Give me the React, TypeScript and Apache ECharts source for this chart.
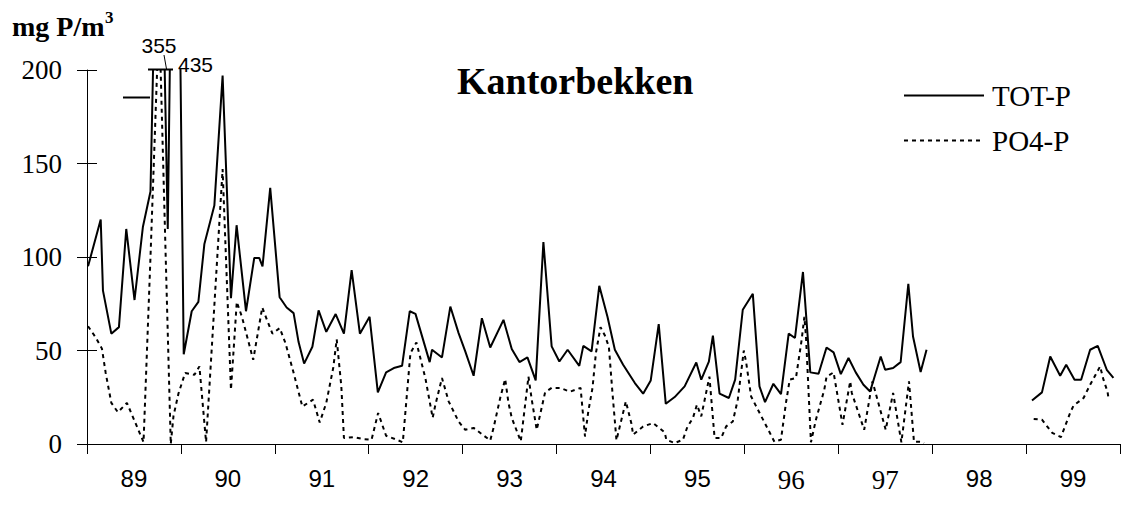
import React, { useEffect, useRef } from "react";
import * as echarts from "echarts";

const yearLabels = ["89", "90", "91", "92", "93", "94", "95", "96", "97", "98", "99"];
const serifYears = ["96", "97"];
const yTicks = { min: 0, max: 200, interval: 50 };

const totP: (number | null)[][] = [
  [1989.011, 95], [1989.146, 120], [1989.17, 82], [1989.259, 59], [1989.34, 62.5], [1989.418, 115],
  [1989.506, 77], [1989.595, 116], [1989.676, 135], [1989.768, 355], [1989.86, 115], [1989.942, 435],
  [1990.03, 48], [1990.115, 71], [1990.186, 76], [1990.25, 107], [1990.356, 127.5], [1990.444, 197],
  [1990.533, 78], [1990.593, 117], [1990.693, 71], [1990.781, 99.5], [1990.834, 99.5], [1990.869, 95],
  [1990.951, 137], [1991.051, 78.5], [1991.126, 73], [1991.2, 70], [1991.253, 54.5], [1991.312, 43],
  [1991.4, 52], [1991.466, 71.5], [1991.548, 60], [1991.648, 69.5], [1991.736, 59], [1991.818, 93],
  [1991.906, 59], [1992.009, 68], [1992.097, 27.6], [1992.185, 38.3], [1992.267, 40.6], [1992.355, 41.8],
  [1992.437, 71], [1992.498, 69.6], [1992.649, 43.8], [1992.674, 50.4], [1992.78, 46.3], [1992.869, 73.5],
  [1992.957, 59.3], [1993.028, 49.5], [1993.117, 36.5], [1993.205, 67.3], [1993.294, 51.6], [1993.435, 66.4],
  [1993.523, 50.8], [1993.605, 43.8], [1993.69, 46.3], [1993.778, 34], [1993.86, 108], [1993.948, 52.2],
  [1994.03, 44.1], [1994.118, 50.4], [1994.242, 41.8], [1994.285, 52.5], [1994.373, 49.5], [1994.455, 84.6],
  [1994.543, 67.9], [1994.621, 50.4], [1994.709, 42.4], [1994.834, 32.6], [1994.922, 26.9], [1995.003, 34],
  [1995.088, 64.1], [1995.163, 21.5], [1995.258, 25.1], [1995.364, 30.8], [1995.488, 43.6], [1995.541, 34.4],
  [1995.622, 44.1], [1995.665, 57.9], [1995.736, 26.9], [1995.835, 24.6], [1995.902, 34.4], [1995.983, 71.8],
  [1996.09, 80.3], [1996.161, 30.8], [1996.22, 22.4], [1996.309, 32.2], [1996.39, 26.7], [1996.472, 59],
  [1996.539, 56.7], [1996.624, 92], [1996.702, 38.3], [1996.79, 37.6], [1996.875, 51.6], [1996.95, 49],
  [1997.027, 37.4], [1997.109, 46], [1997.186, 38.3], [1997.268, 31.7], [1997.339, 28.1], [1997.452, 46.8],
  [1997.499, 39.7], [1997.584, 40.6], [1997.664, 43.8], [1997.746, 85.7], [1997.796, 57.5], [1997.877, 38.5],
  [1997.94, 50.4], [1998.5, null], [1999.063, 23.3], [1999.169, 27.6], [1999.257, 46.8], [1999.363, 36.5],
  [1999.427, 42.4], [1999.516, 34.4], [1999.586, 34.4], [1999.682, 50.4], [1999.763, 52.5], [1999.859, 39.7],
  [1999.93, 35.3],
];

const po4P: (number | null)[][] = [
  [1989.011, 63], [1989.092, 57], [1989.159, 51], [1989.199, 38], [1989.259, 22], [1989.329, 17],
  [1989.425, 22], [1989.602, 1], [1989.676, 100], [1989.768, 230], [1989.892, 0], [1989.921, 15],
  [1989.974, 27], [1990.045, 38], [1990.144, 37], [1990.197, 41.5], [1990.268, 1], [1990.444, 147],
  [1990.533, 29], [1990.595, 76], [1990.65, 68], [1990.77, 45], [1990.866, 73], [1990.919, 66],
  [1990.975, 59], [1991.053, 62], [1991.113, 54], [1991.195, 39], [1991.293, 20], [1991.407, 23.7],
  [1991.478, 11.5], [1991.548, 22], [1991.623, 41], [1991.659, 56], [1991.708, 31], [1991.736, 3.2],
  [1991.842, 3.7], [1991.931, 2.7], [1992.03, 2.3], [1992.1, 16.6], [1992.185, 4.4], [1992.278, 2.7],
  [1992.363, 0.9], [1992.444, 48.6], [1992.508, 54.3], [1992.604, 35], [1992.681, 14], [1992.71, 21],
  [1992.78, 35.3], [1992.851, 22.8], [1992.957, 12], [1993.028, 7.6], [1993.117, 8.6], [1993.294, 1.9],
  [1993.329, 8.6], [1993.4, 24.6], [1993.453, 34.7], [1993.488, 22], [1993.523, 14], [1993.619, 1.4],
  [1993.701, 36], [1993.736, 23.7], [1993.789, 7.6], [1993.878, 27.6], [1993.948, 30], [1994.037, 30],
  [1994.143, 28], [1994.256, 30], [1994.303, 4], [1994.338, 17.4], [1994.383, 30], [1994.419, 48.6],
  [1994.468, 62.5], [1994.515, 58], [1994.557, 52], [1994.596, 27], [1994.638, 2], [1994.738, 22.8],
  [1994.797, 11], [1994.815, 5], [1994.922, 9.4], [1995.028, 11.2], [1995.152, 6.2], [1995.169, 2.3],
  [1995.258, 0.5], [1995.346, 2.3], [1995.392, 9], [1995.453, 14], [1995.495, 21], [1995.541, 14.8],
  [1995.628, 36], [1995.683, 3.2], [1995.753, 3.2], [1995.806, 9.4], [1995.877, 12], [1995.93, 23.7],
  [1995.994, 50], [1996.018, 44], [1996.072, 25.4], [1996.32, 1.2], [1996.39, 2.3], [1996.443, 22],
  [1996.483, 34.4], [1996.549, 35.3], [1996.61, 55.7], [1996.639, 68], [1996.656, 57.5], [1996.709, 0.9],
  [1996.762, 13], [1996.851, 29], [1996.875, 36], [1996.95, 38.3], [1997.045, 10.3], [1997.127, 33.5],
  [1997.144, 27.3], [1997.276, 7.6], [1997.364, 33.5], [1997.505, 7.6], [1997.584, 27.3], [1997.672, 0.9],
  [1997.753, 33.5], [1997.806, 1.2], [1997.877, 1.2], [1997.913, 0.5], [1998.5, null], [1999.081, 13.4],
  [1999.169, 13], [1999.279, 5.9], [1999.371, 3.7], [1999.469, 16.6], [1999.505, 20.5], [1999.612, 24.6],
  [1999.682, 31.7], [1999.788, 41.5], [1999.824, 34.4], [1999.867, 28], [1999.877, 24.6],
];

const firstYear = 1989;
const lastYear = 2000;

export default function App() {
  const ref = useRef<HTMLDivElement>(null);

  useEffect(() => {
    if (!ref.current) return;
    const chart = echarts.init(ref.current, null, { renderer: "svg" });
    const serif = "'Liberation Serif', 'Times New Roman', serif";
    const sans = "'Liberation Sans', Arial, sans-serif";
    chart.setOption({
      animation: false,
      backgroundColor: "#fff",
      textStyle: { fontFamily: serif, color: "#000" },
      title: {
        text: "Kantorbekken",
        left: 452,
        top: 57,
        textStyle: { fontFamily: serif, fontWeight: "bold", fontSize: 38, color: "#000" },
      },
      legend: {
        orient: "vertical",
        left: 898,
        top: 76,
        itemWidth: 80,
        itemHeight: 14,
        itemGap: 16,
        itemStyle: { opacity: 0 },
        textStyle: { fontFamily: serif, fontSize: 29, color: "#000", padding: [0, 0, 0, 3] },
        data: ["TOT-P", "PO4-P"],
      },
      grid: { left: 87, right: 0, top: 70, bottom: 61 },
      xAxis: [
        {
          type: "value",
          position: "bottom",
          min: firstYear,
          max: lastYear,
          interval: 1,
          axisLine: { show: true, lineStyle: { color: "#000", width: 1 } },
          axisTick: { show: true, inside: false, length: 10, lineStyle: { color: "#000" } },
          axisLabel: { show: false },
          splitLine: { show: false },
        },
        {
          type: "value",
          position: "bottom",
          min: firstYear,
          max: lastYear,
          interval: 0.5,
          axisLine: { show: false },
          axisTick: { show: false },
          splitLine: { show: false },
          axisLabel: {
            show: true,
            margin: 22,
            fontFamily: sans,
            fontSize: 24,
            color: "#000",
            formatter: (v: number) => {
              if (Math.abs(v - Math.round(v)) < 1e-6) return "";
              const s = yearLabels[Math.floor(v) - firstYear];
              if (!s) return "";
              return serifYears.includes(s) ? `{s|${s}}` : s;
            },
            rich: { s: { fontFamily: serif, fontSize: 27, color: "#000" } },
          },
        },
      ],
      yAxis: [
        {
          type: "value",
          position: "left",
          min: yTicks.min,
          max: yTicks.max,
          interval: yTicks.interval,
          axisLine: { show: true, lineStyle: { color: "#000", width: 1 } },
          axisTick: { show: true, inside: false, length: 10, lineStyle: { color: "#000" } },
          axisLabel: { show: true, margin: 25, fontFamily: serif, fontSize: 27, color: "#000" },
          splitLine: { show: false },
        },
        {
          type: "value",
          position: "left",
          min: yTicks.min,
          max: yTicks.max,
          interval: yTicks.interval,
          axisLine: { show: false },
          axisTick: { show: true, inside: true, length: 10, lineStyle: { color: "#000" } },
          axisLabel: { show: false },
          splitLine: { show: false },
        },
      ],
      series: [
        {
          name: "TOT-P",
          type: "line",
          xAxisIndex: 0,
          yAxisIndex: 0,
          data: totP,
          symbol: "none",
          connectNulls: false,
          clip: true,
          itemStyle: { color: "#000" },
          lineStyle: { color: "#000", width: 2, type: "solid" },
        },
        {
          name: "PO4-P",
          type: "line",
          xAxisIndex: 0,
          yAxisIndex: 0,
          data: po4P,
          symbol: "none",
          connectNulls: false,
          clip: true,
          itemStyle: { color: "#000" },
          lineStyle: { color: "#000", width: 2, type: [4, 4] },
        },
      ],
      graphic: [
        {
          type: "text",
          left: 12,
          top: 12,
          style: { text: "mg P/m", fontFamily: serif, fontWeight: "bold", fontSize: 28, fill: "#000" },
        },
        {
          type: "text",
          left: 105,
          top: 9,
          style: { text: "3", fontFamily: serif, fontWeight: "bold", fontSize: 17, fill: "#000" },
        },
        {
          type: "text",
          x: 159,
          y: 45,
          style: { text: "355", fontFamily: sans, fontSize: 21, fill: "#000", align: "center", verticalAlign: "middle" },
        },
        {
          type: "text",
          x: 178,
          y: 64,
          style: { text: "435", fontFamily: sans, fontSize: 21, fill: "#000", align: "left", verticalAlign: "middle" },
        },
        {
          type: "line",
          shape: { x1: 164, y1: 55, x2: 166.5, y2: 69 },
          style: { stroke: "#000", lineWidth: 1 },
        },
        {
          type: "line",
          shape: { x1: 148, y1: 69.5, x2: 173, y2: 69.5 },
          style: { stroke: "#000", lineWidth: 2 },
        },
        {
          type: "line",
          shape: { x1: 123, y1: 97.5, x2: 150, y2: 97.5 },
          style: { stroke: "#000", lineWidth: 2 },
        },
      ],
    });
    return () => chart.dispose();
  }, []);

  return (
    <div
      ref={ref}
      style={{ position: "absolute", left: 0, top: 0, width: 1123, height: 505 }}
    />
  );
}
